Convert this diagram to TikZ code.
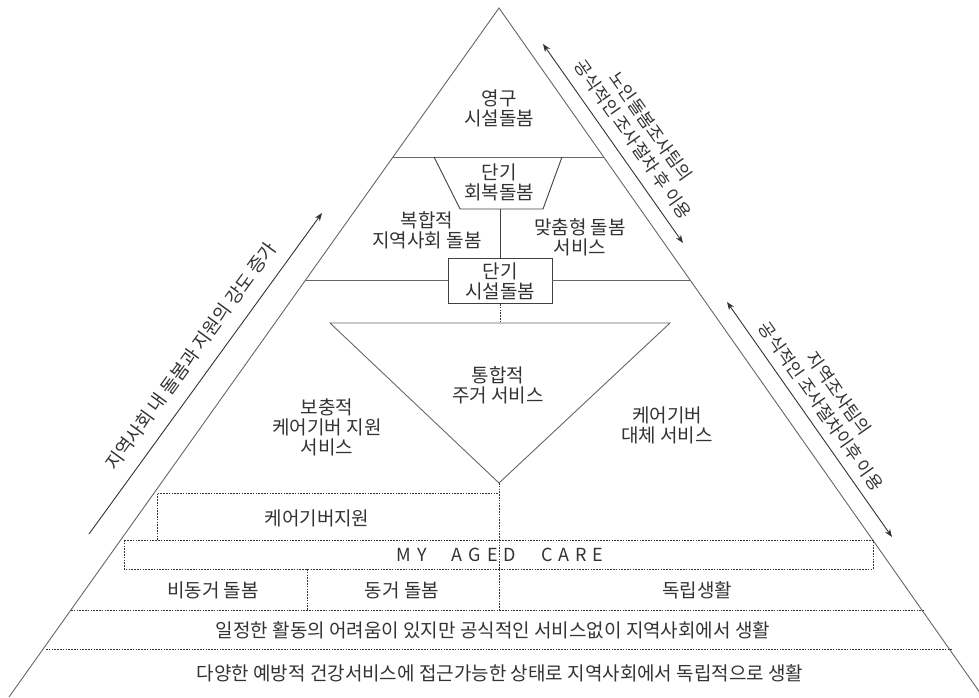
\documentclass[tikz,border=0pt]{standalone}
\usepackage{fontspec}
\setmainfont{Noto Sans CJK KR}
\usetikzlibrary{arrows.meta}
\begin{document}
\begin{tikzpicture}[x=1pt,y=-1pt,
  txt/.style={font=\fontsize{19}{20}\selectfont, text=black!80, align=center, inner sep=0pt},
  rtxt/.style={font=\fontsize{17.5}{22}\selectfont, text=black!80, align=center, inner sep=0pt},
  edge/.style={draw=black!60, line width=0.9pt},
  boxl/.style={draw=black!75, line width=0.9pt},
  dotl/.style={draw=black!80, line width=0.8pt, dash pattern=on 1.6pt off 1.2pt},
  arr/.style={draw=black!80, line width=0.9pt},
  tip/.tip={Stealth[length=8pt,width=6pt]}]
\useasboundingbox (0,0) rectangle (979,697);
\clip (0,0) rectangle (979,697);
% main triangle
\coordinate (apex) at (499,8);
\coordinate (bl) at (9,697);
\coordinate (br) at (983,697);
\draw[edge] (bl) -- (apex) -- (br);
% top band line and trapezoid
\draw[edge] (393,157) -- (604,157);
\draw[boxl] (434,157) -- (460,209) -- (543,209) -- (562,157);
% short-term facility box
\node[txt, boxl, draw, minimum width=104pt, minimum height=45pt] (sfac) at (500,281) {단기\\시설돌봄};
\coordinate (trapb) at (500,209);
\draw[boxl] (trapb) -- (sfac.north);
\coordinate (l280) at (306,280);
\coordinate (r280) at (690,280);
\draw[edge] (l280) -- (l280 -| sfac.west);
\draw[edge] (r280 -| sfac.east) -- (r280);
% inverted triangle
\coordinate (itl) at (330,323);
\coordinate (itr) at (670,323);
\coordinate (itb) at (499,483);
\draw[dotl] (sfac.south) -- (sfac.south |- itl);
\draw[edge] (itl) -- (itr) -- (itb) -- cycle;
% dotted structure
\draw[dotl] (itb) -- (499,610);
\draw[dotl] (157,540) -- (157,493) -- (499,493);
\draw[dotl] (124,540) rectangle (873,569);
\draw[dotl] (307,569) -- (307,610);
\draw[dotl] (71,610) -- (925,610);
\draw[dotl] (46,649) -- (953,649);
% texts
\node[txt] (t1) at (499,108) {영구\\시설돌봄};
\node[txt] (t2) at (499,182) {단기\\회복돌봄};
\node[txt] (t3) at (427,230) {복합적\\지역사회 돌봄};
\node[txt] (t4) at (580,237) {맞춤형 돌봄\\서비스};
\node[txt] (t5) at (498,385) {통합적\\주거 서비스};
\node[txt] (t6) at (327,427) {보충적\\케어기버 지원\\서비스};
\node[txt] (t7) at (667,425) {케어기버\\대체 서비스};
\node[txt] (t8) at (317,518) {케어기버지원};
\node[txt, font=\fontsize{18}{20}\selectfont] (t9) at (500,555) {M\kern6pt Y\hspace{25pt}A\kern6pt G\kern6pt E\kern6pt D\hspace{25pt}C\kern6pt A\kern6pt R\kern6pt E};
\node[txt] (t10) at (213,590) {비동거 돌봄};
\node[txt] (t11) at (402,590) {동거 돌봄};
\node[txt] (t12) at (697,590) {독립생활};
\node[txt] (t13) at (493,630) {일정한 활동의 어려움이 있지만 공식적인 서비스없이 지역사회에서 생활};
\node[txt] (t14) at (500,673) {다양한 예방적 건강서비스에 접근가능한 상태로 지역사회에서 독립적으로 생활};
% left arrow
\coordinate (la1) at (89,534);
\coordinate (la2) at (322,213);
\draw[arr, -tip] (la1) -- (la2);
\node[txt, font=\fontsize{18.5}{20}\selectfont, rotate=54] (lt) at (191,356) {지역사회 내 돌봄과 지원의 강도 증가};
% right arrow 1
\coordinate (ra1) at (543,44);
\coordinate (ra2) at (683,243);
\draw[arr, tip-tip] (ra1) -- (ra2);
\node[rtxt, rotate=-54.9] (rt1) at (642,133) {노인돌봄조사팀의\\공식적인 조사절차 후 이용};
% right arrow 2
\coordinate (rb1) at (727,302);
\coordinate (rb2) at (892,537);
\draw[arr, tip-tip] (rb1) -- (rb2);
\node[rtxt, rotate=-54.9] (rt2) at (830,400) {지역조사팀의\\공식적인 조사절차이후 이용};
\end{tikzpicture}
\end{document}
